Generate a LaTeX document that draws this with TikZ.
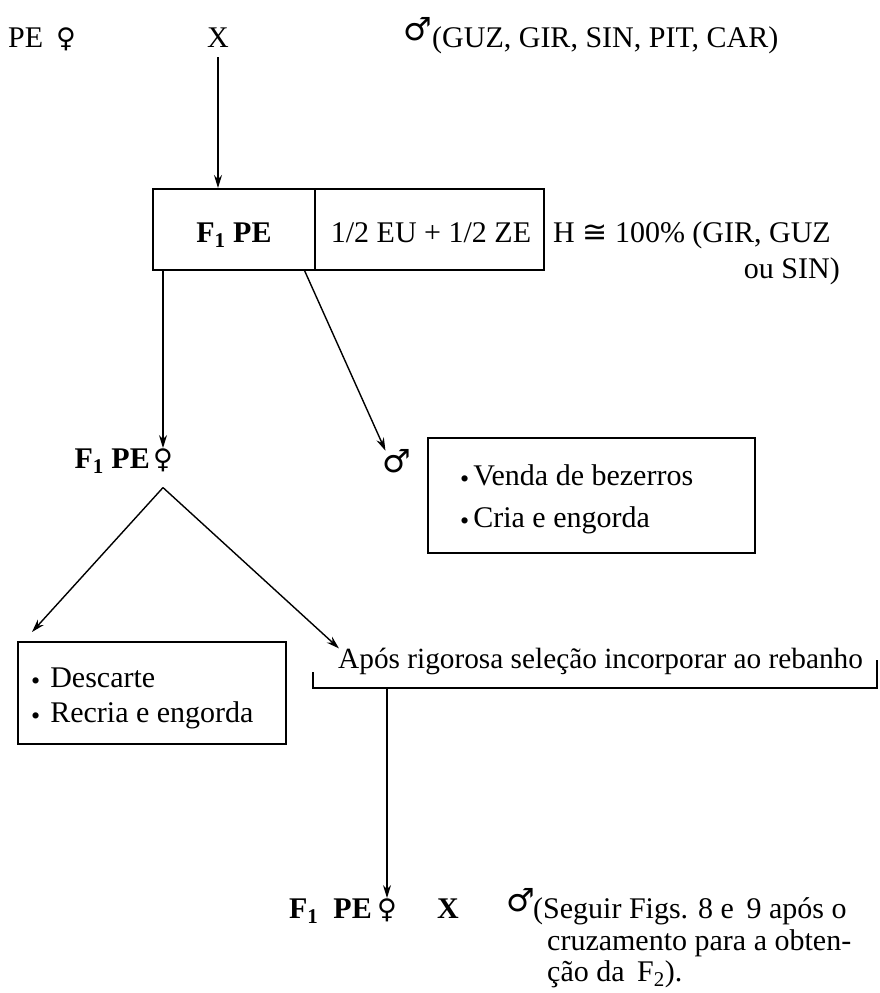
\documentclass[tikz,border=0pt]{standalone}
\usepackage{fontspec}
\setmainfont{Liberation Serif}
\newfontfamily\symfont{DejaVu Sans}
\usetikzlibrary{arrows.meta}
% bullet used in the lists, set low on the line
\newcommand\listdot[1]{\raisebox{-2.5pt}{\fontsize{26}{26}\selectfont\textbullet}\hspace{#1}}
\begin{document}
\begin{tikzpicture}[x=1pt,y=-1pt,
  lbl/.style={inner sep=0pt, font=\fontsize{30}{35}\selectfont},
  blbl/.style={inner sep=0pt, font=\fontsize{30}{35}\selectfont\bfseries},
  fsign/.style={inner sep=0pt, font=\symfont\fontsize{27}{30}\selectfont},
  msign/.style={inner sep=0pt, font=\symfont\fontsize{32}{36}\selectfont},
  frame/.style={draw, line width=1.5pt, inner sep=0pt},
  arr/.style={-{Stealth[length=13pt,width=8pt]}, line width=1.4pt},
  link/.style={line width=1.4pt}]
\useasboundingbox (0,0) rectangle (880,993);

% ---- parents ----
\node[lbl, anchor=base west] (pe) at (8,47) {PE};
\node[fsign, anchor=base] (pefem) at (66,47) {♀};
\node[lbl, anchor=base] (cross) at (218,47) {X};
\node[msign, anchor=base] (topmale) at (418,40) {♂};
\node[lbl, anchor=base west] (breeds) at (432,47) {(GUZ, GIR, SIN, PIT, CAR)};

% ---- F1 box ----
\node[frame, anchor=north west, minimum width=162pt, minimum height=81pt] (f1cell) at (152,188) {};
\node[frame, anchor=north west, minimum width=229pt, minimum height=81pt] (compcell) at (314,188) {};
\node[blbl, anchor=base] (f1txt) at (234,242) {F\textsubscript{1} PE};
\node[lbl, anchor=base] (comptxt) at (431,242) {1/2 EU + 1/2 ZE};
\node[lbl, anchor=base west] (het) at (553,242) {H {\symfont ≅} 100\% (GIR, GUZ};
\node[lbl, anchor=base east] (het2) at (840,278) {ou SIN)};

\draw[arr] ([yshift=-10pt]cross.south) -- (cross.south |- f1cell.north);

% ---- F1 females ----
\node[blbl, anchor=base east] (f1fem) at (150,468) {F\textsubscript{1} PE};
\node[fsign, anchor=base] (femsign) at (163,468) {♀};
\draw[arr] (f1cell.south -| femsign) -- (femsign.north);

% ---- F1 males ----
\node[msign, anchor=base] (malesign) at (397,472) {♂};
\node[frame, anchor=north west, minimum width=327pt, minimum height=115pt] (salebox) at (427,437) {};
\node[lbl, anchor=base west] (sale1) at (460,485) {\listdot{4pt}Venda de bezerros};
\node[lbl, anchor=base west] (sale2) at (460,527) {\listdot{4pt}Cria e engorda};
\draw[arr] ([xshift=-11pt]f1cell.south east) -- ([xshift=3pt,yshift=-2pt]malesign.north west);

% ---- culled females ----
\node[frame, anchor=north west, minimum width=268pt, minimum height=102pt] (cullbox) at (17,641) {};
\node[lbl, anchor=base west] (cull1) at (31,687) {\listdot{10pt}Descarte};
\node[lbl, anchor=base west] (cull2) at (31,722) {\listdot{10pt}Recria e engorda};

% ---- selected females ----
\node[lbl, anchor=base west, font=\fontsize{29.3}{34}\selectfont] (apos) at (338,668) {Após rigorosa seleção incorporar ao rebanho};
\coordinate (brL) at (313,672);
\coordinate (brR) at (877,660);
\coordinate (drop) at (387,688);
\draw[link] (brL) -- (brL |- drop) -- (brR |- drop) -- (brR);

\coordinate (apex) at ([yshift=-16pt]femsign.south);
\draw[arr] (apex) -- ([xshift=15pt,yshift=9pt]cullbox.north west);
\draw[arr] (apex) -- ([xshift=1pt,yshift=-1pt]apos.north west);

% ---- next mating ----
\node[blbl, anchor=base east] (f1next) at (372,918) {F\textsubscript{1}\ \ PE};
\node[fsign, anchor=base] (femnext) at (387,918) {♀};
\node[blbl, anchor=base] (crossnext) at (448,918) {X};
\node[msign, anchor=base] (malenext) at (521,911) {♂};
\node[lbl, anchor=base west] (note1) at (533,918) {(Seguir Figs. 8 e\, 9 após o};
\node[lbl, anchor=base west] (note2) at (547,950) {cruzamento para a obten-};
\node[lbl, anchor=base west] (note3) at (547,981) {ção da\, F\textsubscript{2}).};

\draw[arr] (drop) -- (femnext.north);
\end{tikzpicture}
\end{document}
